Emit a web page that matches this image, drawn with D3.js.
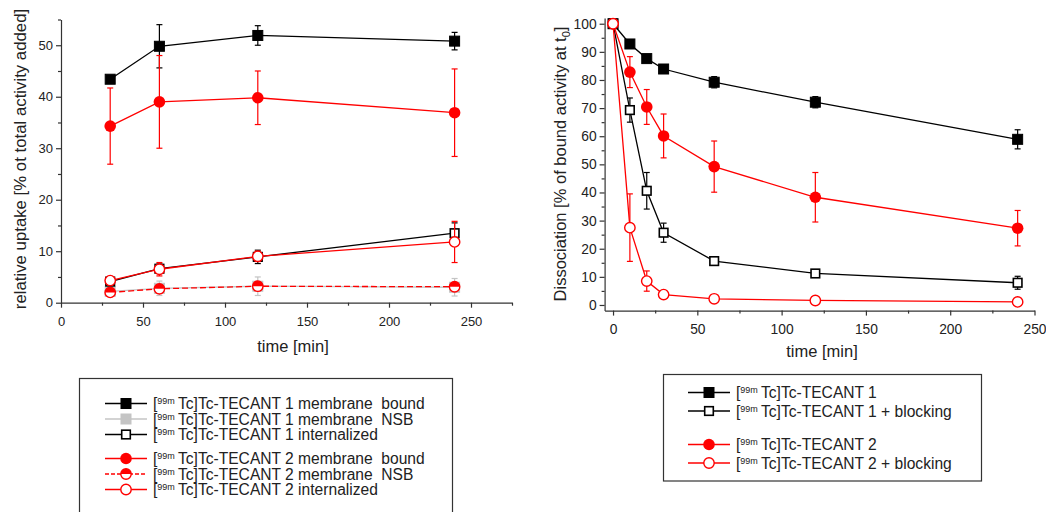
<!DOCTYPE html>
<html lang="en">
  <head>
    <meta charset="utf-8">
    <title>TECANT uptake and dissociation</title>
    <script src="https://d3js.org/d3.v7.js"></script>
    <style>
      body { margin: 0; background: #fff; }
      text { font-family: Arial, "Liberation Sans", sans-serif; fill: #222; }
    </style>
  </head>

  <body>
    <svg></svg>

  <script>

// Data

  var uptakeTime = [30, 60, 120, 240];
  var t1Bound    = [43.4, 49.8, 51.9, 50.8];
  var t1BoundErr = [0.4, 4.2, 1.9, 1.7];
  var t1Nsb      = [2.2, 2.8, 3.2, 3.0];
  var t1NsbErr   = [0.9, 1.4, 1.8, 1.7];
  var t1Int      = [4.1, 6.6, 8.9, 13.5];
  var t1IntErr   = [0.5, 0.9, 1.3, 2.0];
  var t2Bound    = [34.3, 39.0, 39.8, 36.9];
  var t2BoundErr = [7.4, 9.0, 5.2, 8.5];
  var t2Nsb      = [2.0, 2.7, 3.2, 3.1];
  var t2NsbErr   = [0.5, 0.8, 0.6, 0.6];
  var t2Int      = [4.3, 6.5, 9.0, 11.8];
  var t2IntErr   = [0.5, 1.3, 1.0, 4.0];

  var dissTime    = [0, 10, 20, 30, 60, 120, 240];
  var t1Diss      = [100, 92.8, 87.6, 83.9, 79.2, 72.1, 58.9];
  var t1DissErr   = [0, 0.5, 0.5, 0.5, 2.0, 2.0, 3.4];
  var t1Block     = [100, 69.3, 40.6, 25.7, 15.6, 11.2, 7.9];
  var t1BlockErr  = [0, 4.3, 6.5, 3.4, 1.0, 0.8, 2.3];
  var t2Diss      = [100, 82.8, 70.4, 60.1, 49.2, 38.3, 27.3];
  var t2DissErr   = [0, 5.5, 6.2, 7.8, 9.1, 8.8, 6.3];
  var t2Block     = [100, 27.5, 8.5, 3.7, 2.2, 1.6, 1.1];
  var t2BlockErr  = [0, 12.0, 3.6, 1.1, 0.8, 0.5, 0.5];

  var leftLegend = ["Tc]Tc-TECANT 1 membrane\u00a0 bound", "Tc]Tc-TECANT 1 membrane\u00a0 NSB",
                    "Tc]Tc-TECANT 1 internalized", "Tc]Tc-TECANT 2 membrane\u00a0 bound",
                    "Tc]Tc-TECANT 2 membrane\u00a0 NSB", "Tc]Tc-TECANT 2 internalized"];
  var rightLegend = ["Tc]Tc-TECANT 1", "Tc]Tc-TECANT 1 + blocking",
                     "Tc]Tc-TECANT 2", "Tc]Tc-TECANT 2 + blocking"];

  var w = 1046;
  var h = 512;
  var RED = "#ff0000";
  var GREY = "#c4c4c4";

  var svg = d3.select("svg")
      .attr("width", w)
      .attr("height", h);

// Scales

  var xL = d3.scaleLinear().domain([0, 275]).range([61, 512]);
  var yL = d3.scaleLinear().domain([0, 55]).range([302.7, 19.5]);
  var xR = d3.scaleLinear().domain([-5, 250]).range([604.6, 1034.5]);
  var yR = d3.scaleLinear().domain([-2, 102]).range([310.6, 18.1]);

// Axes helper: major + minor ticks, outward

  function drawAxes(xs, ys, xMajor, xMinor, yMajor, yMinor, fs) {
    var x0 = ys.range()[0];
    var y0 = xs.range()[0];
    var xg = svg.append("g").attr("transform", `translate(0, ${x0})`);
    xg.call(d3.axisBottom(xs).tickValues(xMinor).tickSize(3).tickFormat(""));
    xg.call(g => g.select(".domain").remove());
    var xg2 = svg.append("g").attr("transform", `translate(0, ${x0})`)
        .call(d3.axisBottom(xs).tickValues(xMajor).tickSize(5).tickSizeOuter(0).tickPadding(9));
    var yg = svg.append("g").attr("transform", `translate(${y0}, 0)`);
    yg.call(d3.axisLeft(ys).tickValues(yMinor).tickSize(3).tickFormat(""));
    yg.call(g => g.select(".domain").remove());
    var yg2 = svg.append("g").attr("transform", `translate(${y0}, 0)`)
        .call(d3.axisLeft(ys).tickValues(yMajor).tickSize(5).tickSizeOuter(0).tickPadding(3));
    [xg, xg2, yg, yg2].forEach(g => {
      g.selectAll("line, path").attr("stroke", "#333").attr("stroke-width", 1.2);
      g.selectAll("text").attr("font-size", fs).attr("fill", "#222")
          .attr("font-family", "Arial, 'Liberation Sans', sans-serif");
    });
  }

  drawAxes(xL, yL, d3.range(0, 251, 50), d3.range(25, 276, 50),
           d3.range(0, 51, 10), d3.range(5, 56, 10), 13);
  drawAxes(xR, yR, d3.range(0, 251, 50), d3.range(25, 226, 50),
           d3.range(0, 101, 10), d3.range(5, 96, 10), 13.8);

// Axis titles

  svg.append("text").attr("x", 293).attr("y", 352).attr("text-anchor", "middle")
      .attr("font-size", 16.5).text("time [min]");
  svg.append("text").attr("x", 822).attr("y", 357).attr("text-anchor", "middle")
      .attr("font-size", 16.5).text("time [min]");
  svg.append("text").attr("transform", "translate(26, 159) rotate(-90)")
      .attr("text-anchor", "middle").attr("font-size", 16.8)
      .text("relative uptake [% ot total activity added]");
  var yt = svg.append("text").attr("transform", "translate(566, 164) rotate(-90)")
      .attr("text-anchor", "middle").attr("font-size", 16.5);
  yt.append("tspan").text("Dissociation [% of bound activity at t");
  yt.append("tspan").attr("font-size", 11).attr("dy", 4).text("0");
  yt.append("tspan").attr("dy", -4).text("]");

// Markers

  function marker(g, kind, color, cx, cy) {
    if (kind == "sqFill" || kind == "sqGrey") {
      g.append("rect").attr("x", cx - 5).attr("y", cy - 5).attr("width", 10).attr("height", 10)
          .attr("fill", color).attr("stroke", color);
    } else if (kind == "sqOpen") {
      g.append("rect").attr("x", cx - 4.3).attr("y", cy - 4.3).attr("width", 8.6).attr("height", 8.6)
          .attr("fill", "#fff").attr("stroke", color).attr("stroke-width", 1.6);
    } else if (kind == "ciFill") {
      g.append("circle").attr("cx", cx).attr("cy", cy).attr("r", 5.8).attr("fill", color);
    } else if (kind == "ciOpen") {
      g.append("circle").attr("cx", cx).attr("cy", cy).attr("r", 5.2)
          .attr("fill", "#fff").attr("stroke", color).attr("stroke-width", 1.4);
    } else if (kind == "ciHalf") {
      g.append("circle").attr("cx", cx).attr("cy", cy).attr("r", 5.2)
          .attr("fill", "#fff").attr("stroke", color).attr("stroke-width", 1.4);
      g.append("path").attr("d", d3.arc()({innerRadius: 0, outerRadius: 5.2,
          startAngle: -Math.PI / 2, endAngle: Math.PI / 2}))
          .attr("transform", `translate(${cx}, ${cy})`).attr("fill", color);
    }
  }

  function series(xs, ys, xv, yv, ev, kind, color, dash) {
    var g = svg.append("g");
    var pts = xv.map((t, i) => ({t: t, v: yv[i], e: ev[i]}));
    g.append("path").datum(pts)
        .attr("d", d3.line().x(d => xs(d.t)).y(d => ys(d.v)))
        .attr("fill", "none").attr("stroke", color).attr("stroke-width", 1.3)
        .attr("stroke-dasharray", dash || null);
    pts.forEach(d => {
      if (d.e > 0) {
        var x = xs(d.t), y1 = ys(d.v + d.e), y2 = ys(d.v - d.e);
        g.append("line").attr("x1", x).attr("x2", x).attr("y1", y1).attr("y2", y2)
            .attr("stroke", color).attr("stroke-width", 1.2);
        [y1, y2].forEach(y => g.append("line").attr("x1", x - 3).attr("x2", x + 3)
            .attr("y1", y).attr("y2", y).attr("stroke", color).attr("stroke-width", 1.2));
      }
      marker(g, kind, color, xs(d.t), ys(d.v));
    });
  }

// Left plot

  series(xL, yL, uptakeTime, t1Nsb, t1NsbErr, "sqGrey", GREY);
  series(xL, yL, uptakeTime, t2Nsb, t2NsbErr, "ciHalf", RED, "6,3");
  series(xL, yL, uptakeTime, t1Int, t1IntErr, "sqOpen", "#000");
  series(xL, yL, uptakeTime, t2Int, t2IntErr, "ciOpen", RED);
  series(xL, yL, uptakeTime, t1Bound, t1BoundErr, "sqFill", "#000");
  series(xL, yL, uptakeTime, t2Bound, t2BoundErr, "ciFill", RED);

// Right plot

  series(xR, yR, dissTime, t1Diss, t1DissErr, "sqFill", "#000");
  series(xR, yR, dissTime, t1Block, t1BlockErr, "sqOpen", "#000");
  series(xR, yR, dissTime, t2Diss, t2DissErr, "ciFill", RED);
  series(xR, yR, dissTime, t2Block, t2BlockErr, "ciOpen", RED);

// Legends

  function legendRow(lx, ly, label, kind, color, dash) {
    var g = svg.append("g");
    g.append("line").attr("x1", lx - 21).attr("x2", lx + 21).attr("y1", ly).attr("y2", ly)
        .attr("stroke", color).attr("stroke-width", 1.6).attr("stroke-dasharray", dash || null);
    marker(g, kind, color, lx, ly);
    var t = g.append("text").attr("x", lx + 27).attr("y", ly + 5.5).attr("font-size", 15.6);
    t.append("tspan").text("[");
    t.append("tspan").attr("font-size", 9).attr("dy", -5).text("99m");
    t.append("tspan").attr("dy", 5).text("\u2009" + label);
  }

  svg.append("rect").attr("x", 79.5).attr("y", 378.5).attr("width", 373).attr("height", 150)
      .attr("fill", "none").attr("stroke", "#333").attr("stroke-width", 1.2);
  var leftKinds = [["sqFill", "#000"], ["sqGrey", GREY], ["sqOpen", "#000"],
                   ["ciFill", RED], ["ciHalf", RED, "4,2"], ["ciOpen", RED]];
  var leftRowsY = [403.5, 419, 434.5, 458.5, 474, 489.5];
  leftLegend.forEach((lab, i) => legendRow(126, leftRowsY[i], lab, leftKinds[i][0], leftKinds[i][1], leftKinds[i][2]));

  svg.append("rect").attr("x", 663.5).attr("y", 374.5).attr("width", 318).attr("height", 106.5)
      .attr("fill", "none").attr("stroke", "#333").attr("stroke-width", 1.2);
  var rightKinds = [["sqFill", "#000"], ["sqOpen", "#000"], ["ciFill", RED], ["ciOpen", RED]];
  var rightRowsY = [392.5, 411, 444.5, 463];
  rightLegend.forEach((lab, i) => legendRow(709, rightRowsY[i], lab, rightKinds[i][0], rightKinds[i][1]));

    </script>

  </body>

</html>
